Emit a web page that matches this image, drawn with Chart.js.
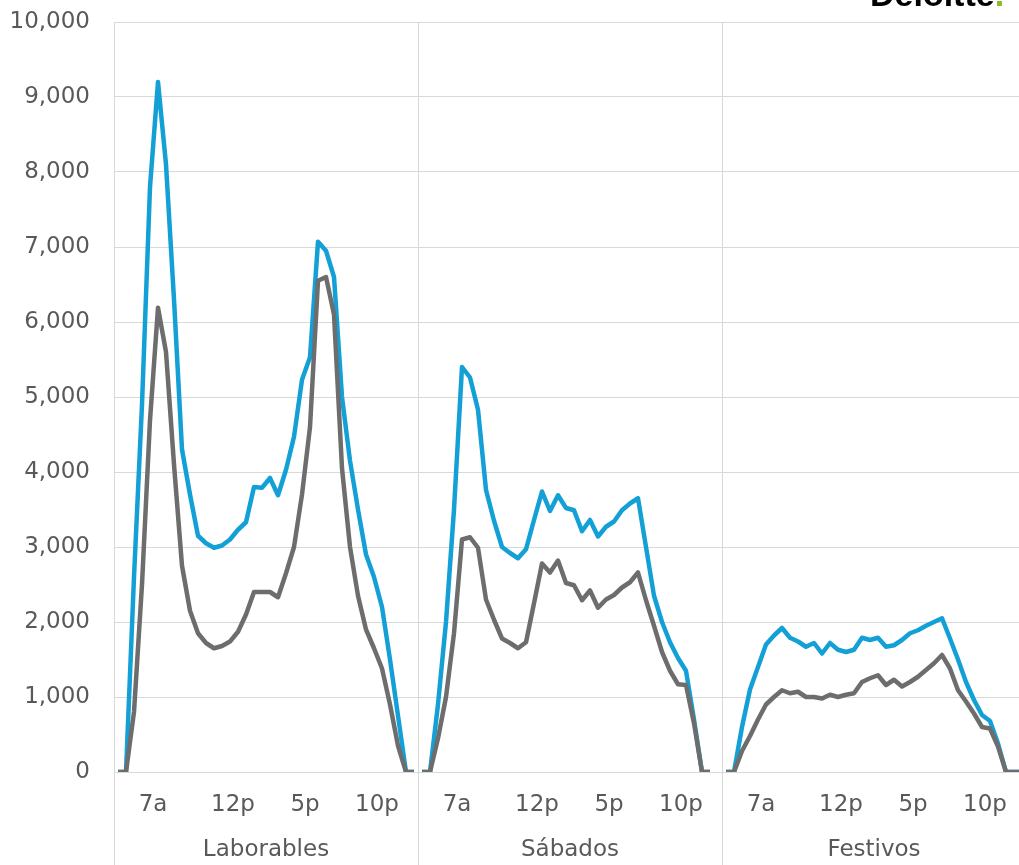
<!DOCTYPE html>
<html>
<head>
<meta charset="utf-8">
<script src="https://cdn.jsdelivr.net/npm/chart.js@4.4.1/dist/chart.umd.min.js"></script>
<style>
  html, body { margin: 0; padding: 0; overflow: hidden; background: #fff; }
  #wrap { position: relative; width: 1030px; height: 865px; }
  #logo { position: absolute; left: 870px; top: -23px; font: bold 34px/34px "Liberation Sans", Arial, sans-serif; color: #000; z-index: 2; }
  #logo span { color: #86bc25; }
</style>
</head>
<body>
<div id="wrap">
  <canvas id="myChart"></canvas>
  <div id="logo">Deloitte<span>.</span></div>
</div>
<script>
// groups of the multi-level category axis, 38 half-hour slots each
const groups = ['Laborables', 'Sábados', 'Festivos'];
const slotsPerGroup = 38;
const tickPos = [4, 14, 23, 32];
const tickText = ['7a', '12p', '5p', '10p'];

// blue series
const blueLab = [0, 0, 2600, 4900, 7800, 9200, 8100, 6300, 4300, 3700, 3150, 3050, 2990, 3020, 3100, 3230, 3330, 3800, 3790, 3920, 3690, 4030, 4470, 5230, 5530, 7070, 6950, 6600, 5000, 4150, 3500, 2900, 2600, 2200, 1500, 750, 0, 0];
const blueSab = [0, 0, 900, 2000, 3500, 5400, 5260, 4830, 3760, 3350, 3000, 2920, 2850, 2970, 3360, 3740, 3480, 3690, 3520, 3490, 3210, 3360, 3140, 3270, 3340, 3490, 3580, 3650, 3000, 2350, 2000, 1730, 1520, 1350, 700, 0, 0, null];
const blueFes = [0, 0, 600, 1100, 1400, 1700, 1820, 1920, 1790, 1740, 1670, 1720, 1580, 1720, 1630, 1600, 1630, 1790, 1760, 1790, 1670, 1690, 1760, 1850, 1890, 1950, 2000, 2050, 1780, 1500, 1200, 960, 760, 680, 380, 0, 0, 0];

// grey series
const greyLab = [0, 0, 800, 2500, 4690, 6190, 5600, 4100, 2750, 2150, 1850, 1720, 1650, 1680, 1740, 1870, 2100, 2400, 2400, 2400, 2330, 2650, 3000, 3700, 4600, 6550, 6600, 6100, 4050, 3000, 2350, 1900, 1650, 1380, 900, 350, 0, 0];
const greySab = [0, 0, 450, 1000, 1850, 3100, 3130, 2990, 2300, 2030, 1780, 1720, 1650, 1730, 2250, 2780, 2660, 2820, 2520, 2490, 2290, 2420, 2190, 2300, 2360, 2460, 2530, 2660, 2290, 1950, 1600, 1350, 1170, 1160, 650, 0, 0, null];
const greyFes = [0, 0, 280, 480, 700, 900, 1000, 1090, 1050, 1070, 1000, 1000, 980, 1030, 1000, 1030, 1050, 1200, 1250, 1290, 1160, 1230, 1140, 1200, 1270, 1360, 1450, 1560, 1380, 1090, 940, 780, 600, 580, 340, 0, 0, 0];

const labels = [];
groups.forEach(() => {
    for (let i = 0; i < slotsPerGroup; i++) {
        const k = tickPos.indexOf(i);
        labels.push(k >= 0 ? tickText[k] : '');
    }
});

const gridColor = '#d9d9d9';
const textColor = '#595959';
const font = { family: 'DejaVu Sans', size: 23, lineHeight: 1 };

// don't join the last point of one group to the first of the next
const panelBreak = c => (c.p1DataIndex % slotsPerGroup === 0 ? 'transparent' : undefined);

const myChartRef = document.getElementById('myChart').getContext('2d');

new Chart(myChartRef, {
    type: 'line',
    data: {
        labels: labels,
        datasets: [
            {
                data: [...blueLab, ...blueSab, ...blueFes],
                borderColor: '#12a0d7',
                borderWidth: 4.5,
                pointRadius: 0,
                tension: 0,
                borderJoinStyle: 'round',
                order: 1,
                segment: { borderColor: panelBreak }
            },
            {
                data: [...greyLab, ...greySab, ...greyFes],
                borderColor: '#6d6d6d',
                borderWidth: 4.5,
                pointRadius: 0,
                tension: 0,
                borderJoinStyle: 'round',
                order: 0,
                segment: { borderColor: panelBreak }
            }
        ]
    },
    options: {
        responsive: true,
        maintainAspectRatio: false,
        animation: false,
        layout: { padding: { left: 8, right: 4, top: 22, bottom: 0 } },
        plugins: { legend: { display: false }, tooltip: { enabled: false } },
        scales: {
            x: {
                type: 'category',
                offset: true,
                grid: {
                    offset: true,
                    tickLength: 48,
                    color: c => (c.index === undefined || c.index % slotsPerGroup === 0) ? gridColor : 'transparent'
                },
                border: { display: false },
                ticks: { autoSkip: false, maxRotation: 0, padding: -26.5, labelOffset: 3, color: textColor, font: font },
                afterFit: s => { s.height = 48; }
            },
            x2: {
                type: 'category',
                labels: groups,
                position: 'bottom',
                offset: true,
                grid: { offset: true, drawOnChartArea: false, tickLength: 45, color: gridColor },
                border: { display: false },
                ticks: { padding: -26.5, color: textColor, font: font },
                afterFit: s => { s.height = 45; }
            },
            y: {
                min: 0,
                max: 10000,
                ticks: { stepSize: 1000, padding: 10, color: textColor, font: font, callback: v => v.toLocaleString('en-US') },
                grid: { color: gridColor, drawTicks: true, tickLength: 14, tickColor: 'transparent' },
                border: { display: false },
                afterFit: s => { s.width = 106; }
            }
        }
    }
});
</script>
</body>
</html>
